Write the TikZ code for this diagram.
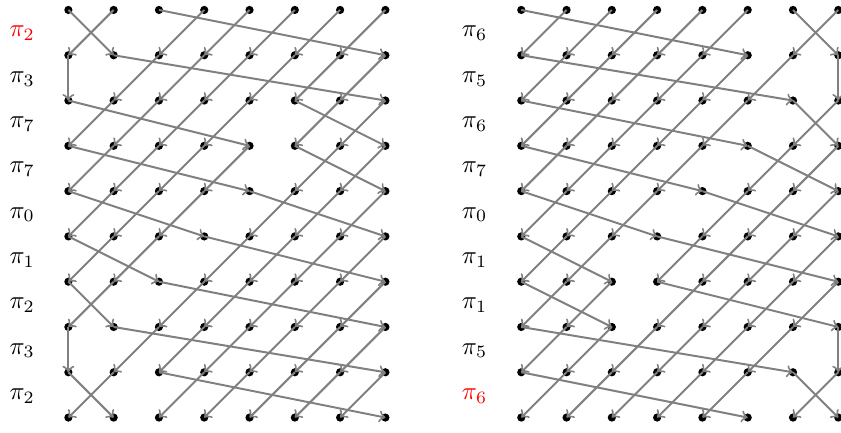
\documentclass[tikz,border=0pt]{standalone}

% targets of columns 0..7 for each pi_k
\pgfkeys{/perm/0/.initial={3,0,1,2,7,4,5,6},
         /perm/1/.initial={2,0,1,7,3,4,5,6},
         /perm/2/.initial={1,0,7,2,3,4,5,6},
         /perm/3/.initial={0,7,1,2,3,4,5,6},
         /perm/5/.initial={6,0,1,2,3,4,5,7},
         /perm/6/.initial={5,0,1,2,3,4,7,6},
         /perm/7/.initial={4,0,1,2,3,7,5,6}}

\begin{document}
\begin{tikzpicture}[x=0.64cm, y=0.64cm,
    dot/.style={circle, fill=black, inner sep=0pt, minimum size=3.3pt},
    wire/.style={->, gray, line width=0.8pt}]
  \useasboundingbox (-1.51,0.22) rectangle (17.06,-9.32);
  % dots of both grids
  \foreach \g/\gx in {L/0,R/10}
    \foreach \r in {0,...,9}
      \foreach \c in {0,...,7}
        \node[dot] (\g-\r-\c) at (\gx+\c,-\r) {};
  % left grid
  \foreach \k/\col [count=\r from 0] in {2/red,3/black,7/black,7/black,0/black,1/black,2/black,3/black,2/black} {
    \node[text=\col] (L-pi-\r) at (-1.02,-\r-0.52) {$\pi_{\k}$};
    \pgfkeysgetvalue{/perm/\k}\plist
    \pgfmathtruncatemacro\nr{\r+1}
    \foreach \t [count=\s from 0] in \plist
      \draw[wire] (L-\r-\s.center) -- (L-\nr-\t.center);
  }
  % right grid
  \foreach \k/\col [count=\r from 0] in {6/black,5/black,6/black,7/black,0/black,1/black,1/black,5/black,6/red} {
    \node[text=\col] (R-pi-\r) at (8.97,-\r-0.52) {$\pi_{\k}$};
    \pgfkeysgetvalue{/perm/\k}\plist
    \pgfmathtruncatemacro\nr{\r+1}
    \foreach \t [count=\s from 0] in \plist
      \draw[wire] (R-\r-\s.center) -- (R-\nr-\t.center);
  }
\end{tikzpicture}
\end{document}
